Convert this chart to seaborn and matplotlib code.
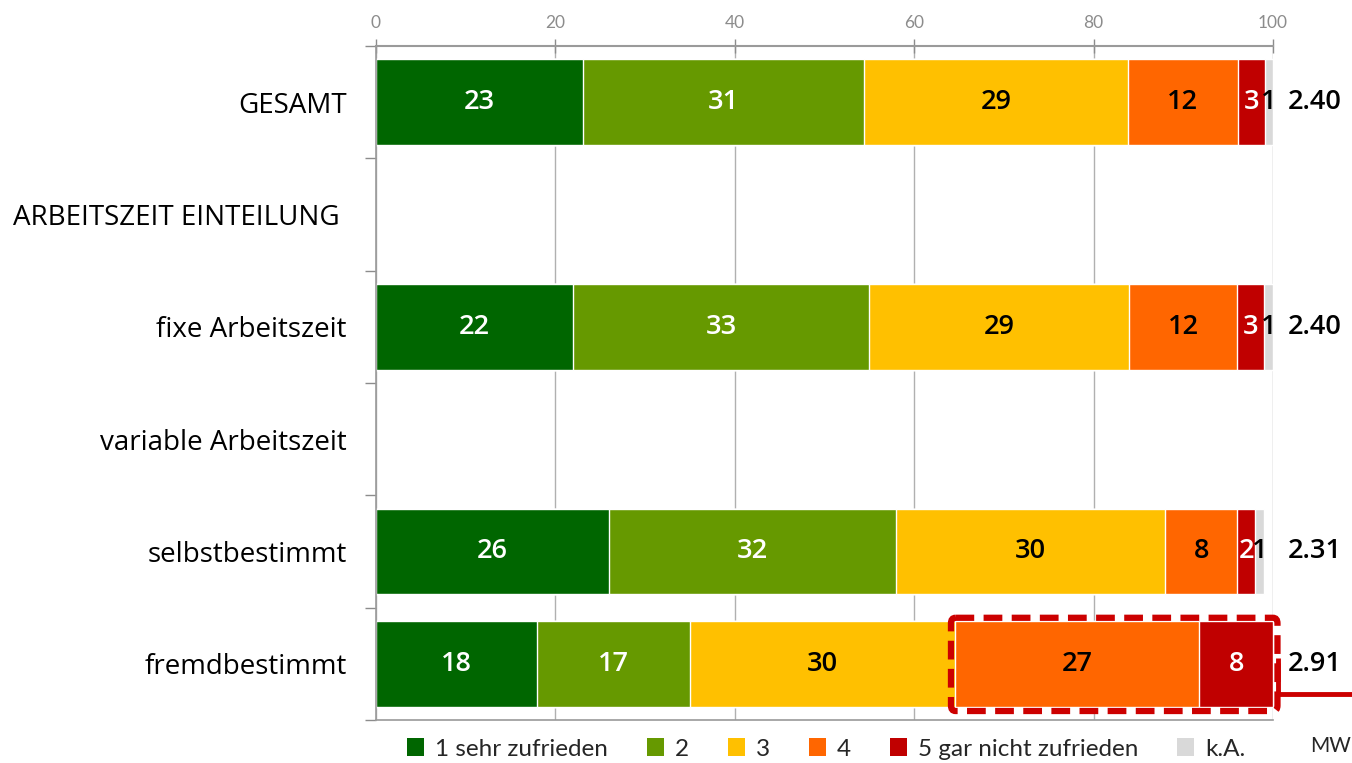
import numpy as np
import pandas as pd
import matplotlib
matplotlib.use("Agg")
import matplotlib.pyplot as plt
import seaborn as sns
from matplotlib.patches import FancyBboxPatch, Patch

categories = ["GESAMT", "ARBEITSZEIT EINTEILUNG ", "fixe Arbeitszeit",
              "variable Arbeitszeit", "selbstbestimmt", "fremdbestimmt"]
series_names = ["1 sehr zufrieden", "2", "3", "4", "5 gar nicht zufrieden", "k.A."]
colors = ["#006600", "#669900", "#FFC000", "#FF6600", "#C00000", "#D9D9D9"]
label_colors = ["white", "white", "black", "black", "white", "black"]

s1 = [23.1, np.nan, 22.0, np.nan, 26.0, 18.0]
s2 = [31.3, np.nan, 33.0, np.nan, 32.0, 17.0]
s3 = [29.4, np.nan, 29.0, np.nan, 30.0, 29.5]
s4 = [12.3, np.nan, 12.0, np.nan, 8.0, 27.3]
s5 = [3.0, np.nan, 3.0, np.nan, 2.0, 8.2]
ska = [0.9, np.nan, 1.0, np.nan, 1.0, 0.0]
mw = [2.40, np.nan, 2.40, np.nan, 2.31, 2.91]
xticks = [0, 20, 40, 60, 80, 100]

sns.set_theme(style="white")
plt.rcParams["font.family"] = ["Open Sans", "DejaVu Sans"]

df = pd.DataFrame({"cat": categories, "s1": s1, "s2": s2, "s3": s3,
                   "s4": s4, "s5": s5, "ska": ska, "mw": mw})
cols = ["s1", "s2", "s3", "s4", "s5", "ska"]
cum = df[cols].cumsum(axis=1)

fig = plt.figure(figsize=(13.52, 7.63), dpi=100)
ax = fig.add_axes([376/1352, 1-720/763, (1273-376)/1352, (720-46)/763])

# draw cumulative bars from largest to smallest so each layer shows
for i in reversed(range(len(cols))):
    d = pd.DataFrame({"cat": df["cat"], "v": cum[cols[i]]}).dropna()
    d = d[df.loc[d.index, cols[i]] > 0]
    sns.barplot(data=d, x="v", y="cat", order=categories, orient="h",
                color=colors[i], saturation=1, width=0.76, ax=ax, zorder=2)

# labels
for ri, row in df.iterrows():
    if np.isnan(row["s1"]):
        continue
    start = 0
    for i, c in enumerate(cols):
        v = row[c]
        if v > 0:
            ax.text(start + v/2, ri, f"{int(round(v))}", ha="center", va="center",
                    color=label_colors[i], fontsize=19.5, fontweight="semibold", zorder=5)
        start += v
    ax.text(101.6, ri, f"{row['mw']:.2f}", ha="left", va="center",
            fontsize=19.5, fontweight="semibold", color="black", clip_on=False)

ax.set_xlim(0, 100)
ax.set_ylim(5.5, -0.5)
ax.set_xlabel("")
ax.set_ylabel("")
ax.xaxis.tick_top()
ax.set_xticks(xticks)
ax.set_xticklabels([str(t) for t in xticks], fontsize=12.5, color="#8c8c8c",
                   family=["Lato", "DejaVu Sans"])
ax.tick_params(axis="x", which="major", direction="inout", length=10,
               color="#8c8c8c", width=1, pad=6)
ax.grid(axis="x", color="#b0b0b0", linewidth=1, zorder=0)
ax.set_axisbelow(True)

ax.set_yticks(range(len(categories)))
ax.set_yticklabels(categories, fontsize=20, color="black")
ax.set_yticks(np.arange(-0.5, 6.0, 1.0), minor=True)
ax.tick_params(axis="y", which="major", length=0, pad=21)
ax.tick_params(axis="y", which="minor", length=8, color="#8c8c8c", width=1, direction="out", left=True)

for side in ["top", "left", "bottom"]:
    ax.spines[side].set_visible(True)
    ax.spines[side].set_color("#9a9a9a")
    ax.spines[side].set_linewidth(1.5 if side == "top" else 1.2)
ax.spines["right"].set_visible(False)

# highlight box around the "4" and "5" segments of fremdbestimmt
ri = 5
x0 = cum.loc[ri, "s3"] - 0.4
box = FancyBboxPatch((x0, ri - 0.41), 100.5 - x0, 0.83,
                     boxstyle="round,pad=0,rounding_size=0.5",
                     fill=False, edgecolor="#CC0000", linewidth=4.5,
                     linestyle=(0, (3, 1.5)), clip_on=False, zorder=6,
                     mutation_aspect=0.1)
ax.add_patch(box)
ax.plot([100.6, 100.6, 109], [ri - 0.05, ri + 0.27, ri + 0.27], color="#CC0000",
        linewidth=3.5, clip_on=False, zorder=6, solid_capstyle="butt")

handles = [Patch(facecolor=c, edgecolor="none") for c in colors]
fig.legend(handles, series_names, loc="center", ncol=6,
           bbox_to_anchor=(826/1352, 1-749/763), frameon=False,
           prop={"family": ["Lato", "DejaVu Sans"], "size": 17.5},
           handlelength=0.7, handleheight=0.7,
           handletextpad=0.45, columnspacing=1.6)
fig.text(1310/1352, 1-746/763, "MW", ha="left", va="center", fontsize=15,
         family=["Lato", "DejaVu Sans"])

fig.savefig("out.png", dpi=100)
